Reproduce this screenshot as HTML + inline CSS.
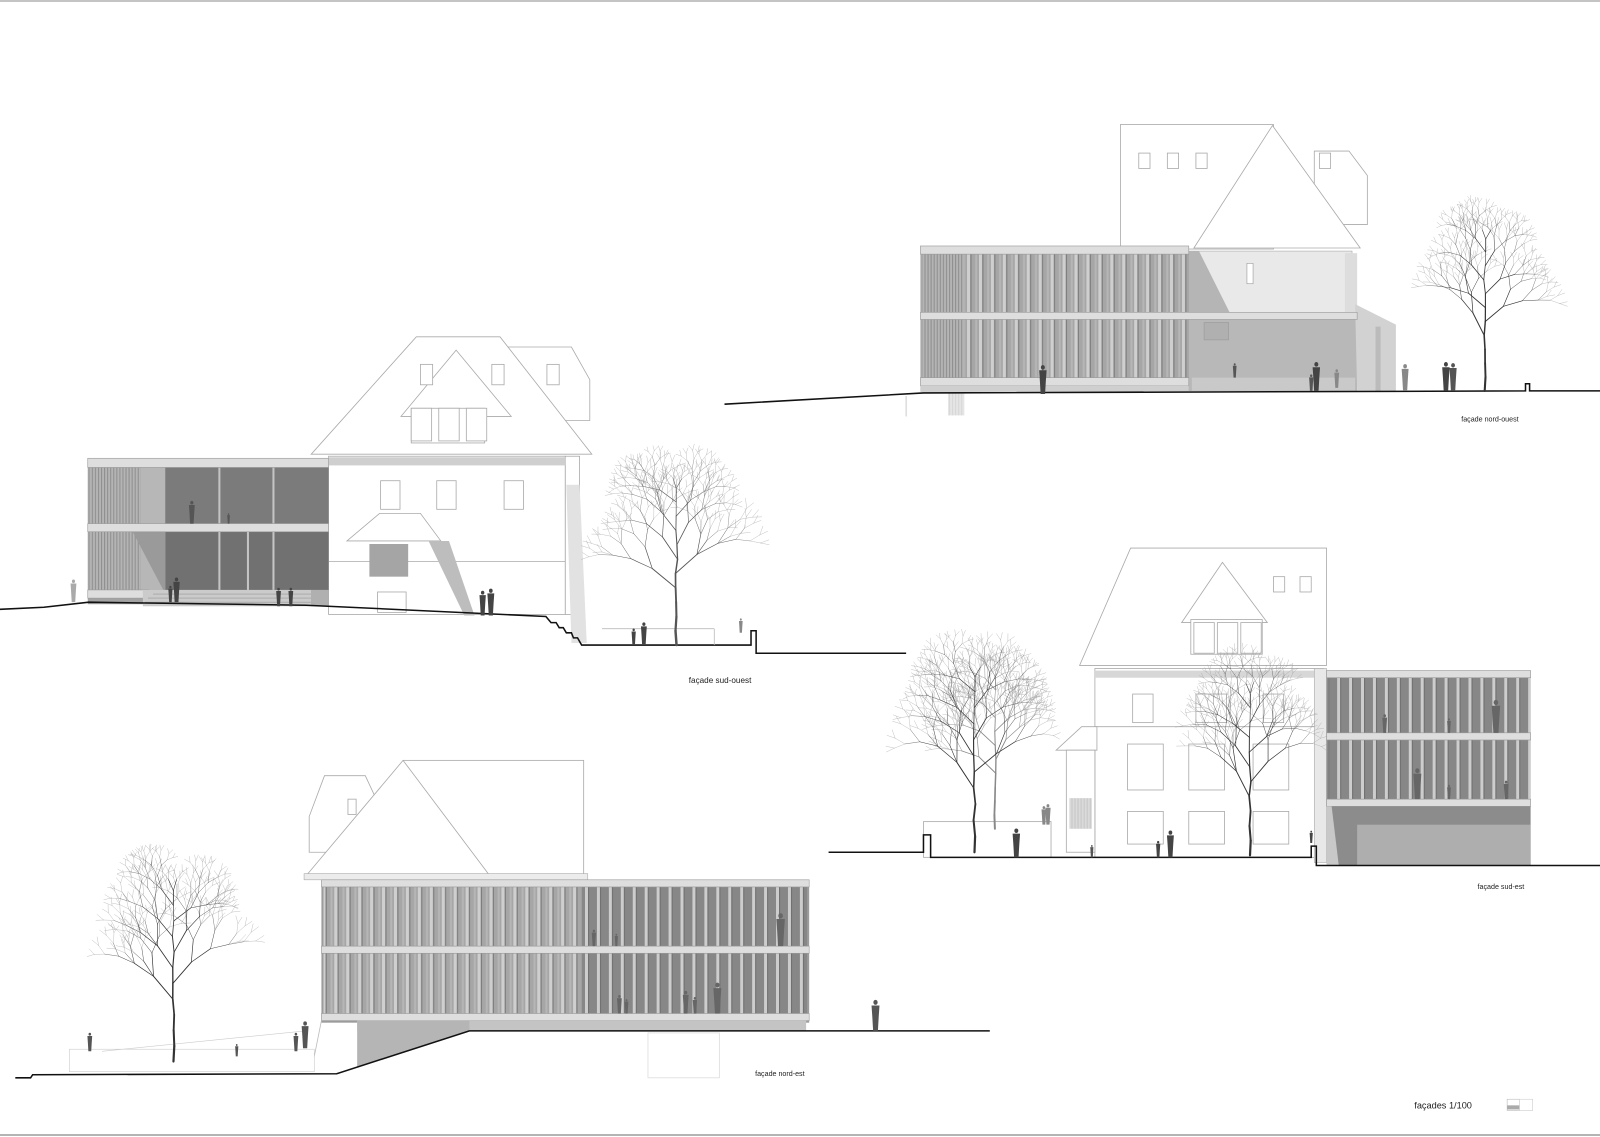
<!DOCTYPE html>
<html><head><meta charset="utf-8"><style>
html,body{margin:0;padding:0;background:#fff;}
svg{display:block}
text{font-family:"Liberation Sans",sans-serif;fill:#222}
</style></head><body>
<svg id="s" xmlns="http://www.w3.org/2000/svg" width="1600" height="1137" viewBox="0 0 1568 1114" preserveAspectRatio="none">
<defs>
<pattern id="finL" width="11.7" height="10" patternUnits="userSpaceOnUse">
<rect width="11.7" height="10" fill="#a6a6a6"/><rect x="0" width="3.2" height="10" fill="#cfcfcf"/><rect x="3.2" width="1.2" height="10" fill="#7e7e7e"/><rect x="8" width="2" height="10" fill="#b6b6b6"/></pattern>
<pattern id="finD" width="11.7" height="10" patternUnits="userSpaceOnUse">
<rect width="11.7" height="10" fill="#878787"/><rect x="0" width="3" height="10" fill="#cdcdcd"/><rect x="3" width="1" height="10" fill="#6e6e6e"/></pattern>
<pattern id="fine" width="3" height="10" patternUnits="userSpaceOnUse">
<rect width="3" height="10" fill="#b4b4b4"/><rect width="1" height="10" fill="#8e8e8e"/></pattern>
</defs>
<line x1="0" y1="1" x2="1568" y2="1" stroke="#888" stroke-width="1"/>
<line x1="0" y1="1112" x2="1568" y2="1112" stroke="#888" stroke-width="1.2"/>

<g stroke="#aaa" stroke-width="0.8" fill="#fff">
<polygon points="490,340 560,340 578,372 578,412 490,412"/>
<polygon points="305,445 408,330 490,330 580,445"/>
<polygon points="393,408 447,343 501,408"/>
<rect x="403" y="400" width="72" height="34"/>
<rect x="403" y="400" width="20" height="32"/><rect x="430" y="400" width="20" height="32"/><rect x="457" y="400" width="20" height="32"/>
<rect x="412" y="357" width="12" height="20"/><rect x="482" y="357" width="12" height="20"/><rect x="536" y="357" width="12" height="20"/>
<rect x="322" y="447" width="232" height="155"/>
<rect x="373" y="471" width="19" height="28"/><rect x="428" y="471" width="19" height="28"/><rect x="494" y="471" width="19" height="28"/>
<line x1="322" y1="550" x2="554" y2="550"/>
<polygon points="340,530 372,503 412,503 432,530"/>
<rect x="370" y="580" width="28" height="20"/>
<rect x="554" y="447" width="14" height="155"/>
</g>
<rect x="322" y="448" width="232" height="8" fill="#cfcfcf"/>
<rect x="362" y="533" width="38" height="32" fill="#a5a5a5"/>
<polygon points="420,530 440,530 465,603 455,603" fill="#bdbdbd"/>
<polygon points="555,475 568,475 575,630 560,630" fill="#e2e2e2"/>
<rect x="86" y="449" width="236" height="143" fill="#a3a3a3"/>
<rect x="88" y="458" width="50" height="120" fill="url(#fine)"/>
<rect x="138" y="458" width="24" height="120" fill="#b7b7b7"/>
<rect x="162" y="458" width="160" height="55" fill="#7b7b7b"/>
<rect x="162" y="521" width="160" height="57" fill="#717171"/>
<polygon points="130,521 162,521 162,578 160,578" fill="#9a9a9a"/>
<g stroke="#c4c4c4" stroke-width="2"><line x1="215" y1="458" x2="215" y2="578"/><line x1="268" y1="458" x2="268" y2="578"/><line x1="243" y1="521" x2="243" y2="578"/></g>
<rect x="86" y="449" width="236" height="9" fill="#dedede" stroke="#999" stroke-width="0.6"/>
<rect x="86" y="513" width="236" height="8" fill="#dedede" stroke="#999" stroke-width="0.6"/>
<rect x="86" y="578" width="60" height="8" fill="#dedede" stroke="#999" stroke-width="0.6"/>
<rect x="140" y="578" width="165" height="16" fill="#cbcbcb"/>
<g stroke="#999" stroke-width="0.6"><line x1="150" y1="582" x2="305" y2="582"/><line x1="145" y1="586" x2="305" y2="586"/><line x1="142" y1="590" x2="305" y2="590"/></g>
<rect x="305" y="578" width="17" height="16" fill="#b0b0b0"/>
<polyline points="0,597 43,595 87,590 300,593 535,604 540,610 545,610 548,615 552,615 555,620 560,620 562,625 566,625 570,632 736,632 736,618 741,618 741,640 888,640" fill="none" stroke="#111" stroke-width="1.5"/>
<line x1="590" y1="616" x2="700" y2="616" stroke="#bbb" stroke-width="0.8"/><line x1="700" y1="616" x2="700" y2="632" stroke="#bbb" stroke-width="0.8"/>
<text x="675" y="669" font-size="8">façade sud-ouest</text>

<g stroke="#aaa" stroke-width="0.8" fill="#fff">
<rect x="1098" y="122" width="150" height="122"/>
<polygon points="1288,148 1322,148 1340,172 1340,220 1288,220"/>
<polygon points="1170,243 1247,123 1333,243"/>
<rect x="1116" y="150" width="11" height="15"/><rect x="1144" y="150" width="11" height="15"/><rect x="1172" y="150" width="11" height="15"/><rect x="1293" y="150" width="11" height="15"/>
</g>
<rect x="1165" y="246" width="160" height="137" fill="#e9e9e9" stroke="#aaa" stroke-width="0.6"/>
<polygon points="1165,246 1175,246 1205,306 1165,306" fill="#b5b5b5"/>
<rect x="1165" y="306" width="165" height="77" fill="#b8b8b8"/>
<rect x="1222" y="258" width="6" height="20" fill="#fff" stroke="#999" stroke-width="0.6"/>
<rect x="1180" y="316" width="24" height="17" fill="#b0b0b0" stroke="#999" stroke-width="0.6"/>
<rect x="1318" y="248" width="12" height="60" fill="#ddd"/>
<polygon points="1328,298 1368,318 1368,383 1330,383" fill="#d2d2d2"/>
<rect x="1348" y="320" width="5" height="63" fill="#bbb"/>
<rect x="1168" y="370" width="160" height="13" fill="#c9c9c9"/>
<rect x="902" y="241" width="263" height="142" fill="#a8a8a8"/>
<rect x="904" y="249" width="41" height="121" fill="url(#fine)"/>
<rect x="945" y="249" width="220" height="121" fill="url(#finL)"/>
<rect x="902" y="241" width="263" height="8" fill="#dedede" stroke="#999" stroke-width="0.6"/>
<rect x="902" y="306" width="428" height="7" fill="#dedede" stroke="#999" stroke-width="0.6"/>
<rect x="902" y="370" width="263" height="8" fill="#dedede" stroke="#999" stroke-width="0.6"/>
<rect x="902" y="378" width="263" height="6" fill="#cfcfcf"/>
<rect x="929" y="385" width="16" height="22" fill="url(#fine)" opacity="0.35"/>
<line x1="888" y1="388" x2="888" y2="408" stroke="#ccc"/>
<polyline points="710,396 905,385 1495,383 1495,376 1499,376 1499,383 1568,383" fill="none" stroke="#111" stroke-width="1.5"/>
<text x="1432" y="413" font-size="7">façade nord-ouest</text>

<g stroke="#aaa" stroke-width="0.8" fill="#fff">
<polygon points="1058,652 1108,537 1300,537 1300,652"/>
<polygon points="1158,610 1198,551 1242,610"/>
<rect x="1167" y="607" width="70" height="34"/>
<rect x="1170" y="610" width="20" height="30"/><rect x="1193" y="610" width="20" height="30"/><rect x="1216" y="610" width="20" height="30"/>
<rect x="1248" y="565" width="11" height="15"/><rect x="1274" y="565" width="11" height="15"/>
<rect x="1073" y="655" width="224" height="185"/>
<rect x="1110" y="680" width="20" height="28"/><rect x="1172" y="680" width="30" height="28"/><rect x="1238" y="680" width="20" height="28"/>
<line x1="1073" y1="712" x2="1297" y2="712"/>
<rect x="1105" y="729" width="35" height="45"/><rect x="1165" y="729" width="35" height="45"/><rect x="1228" y="729" width="35" height="45"/>
<rect x="1105" y="795" width="35" height="32"/><rect x="1165" y="795" width="35" height="32"/><rect x="1228" y="795" width="35" height="32"/>
<polygon points="1035,735 1060,712 1075,712 1075,735"/>
<rect x="1045" y="735" width="28" height="100"/>
<rect x="905" y="805" width="125" height="35"/>
</g>
<rect x="1073" y="657" width="224" height="7" fill="#d7d7d7"/>
<rect x="1048" y="782" width="22" height="30" fill="url(#fine)" opacity="0.5"/>
<rect x="1288" y="655" width="12" height="190" fill="#e8e8e8" stroke="#aaa" stroke-width="0.6"/>
<rect x="1300" y="657" width="200" height="191" fill="#8c8c8c"/>
<rect x="1302" y="664" width="198" height="54" fill="url(#finD)"/>
<rect x="1302" y="725" width="198" height="58" fill="url(#finD)"/>
<rect x="1300" y="657" width="200" height="7" fill="#dedede" stroke="#999" stroke-width="0.6"/>
<rect x="1300" y="718" width="200" height="7" fill="#dedede" stroke="#999" stroke-width="0.6"/>
<rect x="1300" y="783" width="200" height="7" fill="#dedede" stroke="#999" stroke-width="0.6"/>
<rect x="1330" y="808" width="170" height="40" fill="#aeaeae"/>
<polygon points="1300,790 1305,790 1312,848 1300,848" fill="#c8c8c8"/>
<polyline points="812,835 905,835 905,818 912,818 912,840 1285,840 1285,829 1290,829 1290,848 1568,848" fill="none" stroke="#111" stroke-width="1.5"/>
<text x="1448" y="871" font-size="7">façade sud-est</text>

<g stroke="#aaa" stroke-width="0.8" fill="#fff">
<polygon points="318,760 358,760 372,790 372,835 303,835 303,800"/>
<rect x="395" y="745" width="177" height="113"/>
<polygon points="300,858 395,745 480,858"/>
<rect x="341" y="783" width="8" height="15"/>
</g>
<rect x="298" y="856" width="278" height="6" fill="#ececec" stroke="#aaa" stroke-width="0.6"/>
<rect x="315" y="862" width="478" height="140" fill="#9c9c9c"/>
<rect x="317" y="869" width="253" height="58" fill="url(#finL)"/>
<rect x="317" y="934" width="253" height="59" fill="url(#finL)"/>
<rect x="570" y="869" width="221" height="58" fill="url(#finD)"/>
<rect x="570" y="934" width="221" height="59" fill="url(#finD)"/>
<rect x="315" y="862" width="478" height="7" fill="#dedede" stroke="#999" stroke-width="0.6"/>
<rect x="315" y="927" width="478" height="7" fill="#dedede" stroke="#999" stroke-width="0.6"/>
<rect x="315" y="993" width="478" height="7" fill="#dedede" stroke="#999" stroke-width="0.6"/>
<rect x="350" y="1000" width="440" height="10" fill="#c4c4c4"/>
<polygon points="350,1000 460,1000 460,1010 350,1045" fill="#b5b5b5"/>
<line x1="315" y1="1000" x2="305" y2="1050" stroke="#bbb" stroke-width="0.8"/>
<rect x="68" y="1028" width="240" height="22" fill="#fff" stroke="#ccc" stroke-width="0.6"/>
<line x1="100" y1="1030" x2="300" y2="1010" stroke="#ccc" stroke-width="0.6"/>
<rect x="635" y="1012" width="70" height="44" fill="none" stroke="#ddd" stroke-width="0.8"/>
<polyline points="15,1056 30,1056 32,1053 330,1052 460,1010 970,1010" fill="none" stroke="#111" stroke-width="1.5"/>
<text x="740" y="1054" font-size="7">façade nord-est</text>

<text x="1386" y="1086" font-size="9">façades 1/100</text>
<rect x="1477" y="1077" width="12" height="11" fill="#fff" stroke="#bbb" stroke-width="0.6"/>
<rect x="1489" y="1077" width="13" height="11" fill="#fff" stroke="#ccc" stroke-width="0.6"/>
<rect x="1477" y="1083" width="12" height="4" fill="#aaa"/>
<g id="trees"></g>
<g id="people" fill="#555"></g>
</svg>
<script>
(function(){
var NS="http://www.w3.org/2000/svg";
var seed=11;function rnd(){seed=(seed*16807)%2147483647;return (seed-1)/2147483646;}
var tg=document.getElementById('trees');
function line(x1,y1,x2,y2,w,c){var l=document.createElementNS(NS,'line');l.setAttribute('x1',x1.toFixed(1));l.setAttribute('y1',y1.toFixed(1));l.setAttribute('x2',x2.toFixed(1));l.setAttribute('y2',y2.toFixed(1));l.setAttribute('stroke',c);l.setAttribute('stroke-width',w);l.setAttribute('stroke-linecap','round');tg.appendChild(l);}
function br(x,y,a,len,w,d,c){
 var x2=x+Math.cos(a)*len,y2=y+Math.sin(a)*len;
 line(x,y,x2,y2,w,d<=1?'#999':c);
 if(d<=0)return;
 var up=-Math.PI/2;a=a+(up-a)*0.15;
 br(x2,y2,a-0.25-rnd()*0.35,len*(0.72+rnd()*0.12),Math.max(w*0.7,0.3),d-1,c);
 br(x2,y2,a+0.25+rnd()*0.35,len*(0.72+rnd()*0.12),Math.max(w*0.7,0.3),d-1,c);
 if(rnd()<0.3&&d>2)br(x2,y2,a+(rnd()-0.5)*0.3,len*0.6,Math.max(w*0.6,0.3),d-2,c);
}
function tree(x,y,h,c,W){
 c=c||'#333';W=W||1;
 var segs=10,px=x,py=y,trunkTop=0.85;
 for(var i=1;i<=segs;i++){
  var t=i/segs,ny=y-h*trunkTop*t,nx=x+(rnd()-0.5)*2;
  line(px,py,nx,ny,(2.6*(1-t*0.75))*W,c);
  if(t>0.35){
   var side=(i%2?1:-1);
   var ang=-Math.PI/2+side*(0.45+rnd()*0.5);
   var L=h*0.2*(1.1-t*0.5)*W;
   br(nx,ny,ang,L,1.2*(1-t*0.5),5,c);
  }
  px=nx;py=ny;
 }
 br(px,py,-Math.PI/2,h*0.08,0.8,3,c);
}
tree(663,632,165,'#555',1);
tree(1455,383,160,'#333',0.85);
tree(975,812,160,'#888',0.8);
tree(955,835,185,'#333',0.9);
tree(1225,838,170,'#333',0.9);
tree(170,1040,180,'#333',0.9);
var pg=document.getElementById('people');
function p(x,y,h,c){
 var g=document.createElementNS(NS,'g');g.setAttribute('fill',c||'#555');
 var hd=document.createElementNS(NS,'ellipse');hd.setAttribute('cx',x);hd.setAttribute('cy',y-h+h*0.07);hd.setAttribute('rx',h*0.07);hd.setAttribute('ry',h*0.08);g.appendChild(hd);
 var b=document.createElementNS(NS,'path');
 var w=h*0.13;
 b.setAttribute('d','M'+(x-w)+','+(y-h*0.83)+' L'+(x+w)+','+(y-h*0.83)+' L'+(x+w*0.8)+','+(y-h*0.45)+' L'+(x+w*0.6)+','+y+' L'+(x-w*0.6)+','+y+' L'+(x-w*0.8)+','+(y-h*0.45)+' Z');
 g.appendChild(b);pg.appendChild(g);
}
p(72,590,22,'#aaa');p(173,590,24,'#444');p(167,590,16,'#444');p(188,513,22,'#555');p(224,513,10,'#555');
p(273,594,18,'#444');p(285,594,18,'#444');p(473,603,24,'#444');p(481,603,26,'#444');
p(621,632,16,'#444');p(631,632,22,'#444');p(726,620,14,'#888');
p(1022,386,28,'#444');p(1210,370,14,'#555');p(1290,383,28,'#444');p(1285,383,16,'#555');p(1310,380,18,'#888');
p(1377,383,26,'#888');p(1417,383,28,'#444');p(1424,383,27,'#555');
p(1023,808,18,'#888');p(1027,808,20,'#888');p(996,840,28,'#444');p(1070,840,12,'#555');p(1135,840,16,'#444');p(1147,840,26,'#444');p(1285,826,12,'#444');
p(1357,718,18,'#666');p(1420,718,14,'#666');p(1466,718,32,'#666');p(1389,783,30,'#666');p(1420,783,14,'#666');p(1476,783,18,'#666');
p(88,1030,18,'#555');p(232,1035,12,'#555');p(290,1030,18,'#555');p(299,1027,26,'#555');
p(858,1010,30,'#555');p(582,927,16,'#666');p(604,927,12,'#666');p(765,927,32,'#666');
p(607,993,18,'#666');p(614,993,14,'#666');p(672,993,22,'#666');p(681,993,16,'#666');p(703,993,30,'#666');
})();
</script>
</body></html>
